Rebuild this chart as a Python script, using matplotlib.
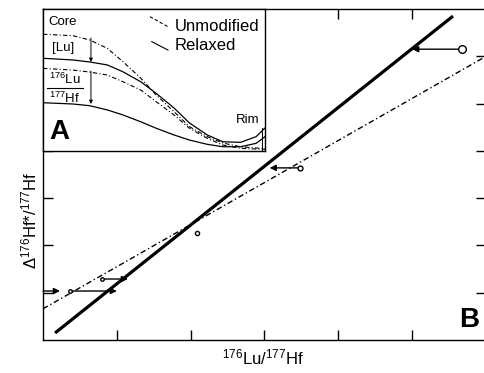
import matplotlib
matplotlib.use("Agg")
import matplotlib.pyplot as plt

plt.rcParams['font.family'] = ['Liberation Sans', 'DejaVu Sans']
plt.rcParams['mathtext.fontset'] = 'custom'
plt.rcParams['mathtext.rm'] = 'Liberation Sans'
plt.rcParams['mathtext.it'] = 'Liberation Sans'

# panel B: isochron lines (x in 176Lu/177Hf units, y in delta units)
relaxed_x = [0.163, 5.553]
relaxed_y = [0.148, 6.85]
unmod_x = [0.0, 6.0]
unmod_y = [0.66, 6.0]

# measured points and where their arrows end
pts_x = [5.675, 3.48, 2.09, 0.80, 0.366]
pts_y = [6.15, 3.64, 2.26, 1.29, 1.036]
pts_size = [5.5, 3.5, 3.0, 2.5, 2.5]
arrow_end_x = [5.0, 3.07, None, 1.15, 1.0]
edge_arrow = (0.0, 0.23, 1.036)

# panel A: profiles from core (0) to rim (1)
prof_u = [0, 0.135, 0.21, 0.29, 0.36, 0.44, 0.51, 0.59, 0.66, 0.74, 0.81, 0.89, 0.96, 1.0]
lu_unmod = [0.822, 0.812, 0.782, 0.723, 0.629, 0.514, 0.394, 0.277, 0.171, 0.101, 0.056, 0.030, 0.021, 0.018]
lu_relax = [0.653, 0.641, 0.627, 0.606, 0.558, 0.488, 0.406, 0.303, 0.197, 0.113, 0.065, 0.061, 0.101, 0.162]
ratio_unmod = [0.582, 0.570, 0.556, 0.535, 0.488, 0.430, 0.347, 0.254, 0.160, 0.089, 0.042, 0.019, 0.014, 0.012]
ratio_relax = [0.340, 0.331, 0.319, 0.289, 0.254, 0.206, 0.160, 0.113, 0.077, 0.047, 0.030, 0.030, 0.054, 0.101]

dashdot = (0, (4, 2, 1, 2))

fig = plt.figure(figsize=(4.85, 3.73), dpi=100)
ax = fig.add_axes([43/485, 33/373, 443/485, 331/373])
ax.set_xlim(0, 6)
ax.set_ylim(0, 7)
ax.set_xticks([1, 2, 3, 4, 5])
ax.set_yticks([1, 2, 3, 4, 5, 6])
ax.tick_params(direction='in', length=7.5, width=1, top=True, right=True,
               labelbottom=False, labelleft=False)
for s in ax.spines.values():
    s.set_linewidth(1)

ax.plot(relaxed_x, relaxed_y, color='black', lw=2.3, solid_capstyle='butt')
ax.plot(unmod_x, unmod_y, color='black', lw=1, linestyle=dashdot)

arrow_kw = dict(arrowstyle='-|>', color='black', lw=1, mutation_scale=9,
                shrinkA=0, shrinkB=0)
for x, y, ms, xe in zip(pts_x, pts_y, pts_size, arrow_end_x):
    if xe is not None:
        ax.annotate('', xy=(xe, y), xytext=(x, y), arrowprops=arrow_kw)
    ax.plot(x, y, marker='o', ms=ms, mfc='white', mec='black', mew=1, zorder=5)
ax.annotate('', xy=(edge_arrow[1], edge_arrow[2]), xytext=(edge_arrow[0], edge_arrow[2]),
            arrowprops=arrow_kw)

ax.text(0.985, 0.02, 'B', transform=ax.transAxes, ha='right', va='bottom',
        fontsize=20, fontweight='bold')

fig.text(29/485, 1 - 220/373, r'Δ$^{176}$Hf*/$^{177}$Hf', rotation=90,
         ha='center', va='center', fontsize=12)
fig.text(263/485, 1 - 357/373, r'$^{176}$Lu/$^{177}$Hf', ha='center', va='center',
         fontsize=12)

# inset A
ins = fig.add_axes([43/485, (373 - 151)/373, 222/485, 142/373])
ins.set_xlim(0, 1)
ins.set_ylim(0, 1)
ins.set_xticks([])
ins.set_yticks([])
for s in ins.spines.values():
    s.set_linewidth(1)
ins.plot(prof_u, lu_unmod, color='black', lw=0.8, linestyle=dashdot)
ins.plot(prof_u, lu_relax, color='black', lw=0.9)
ins.plot(prof_u, ratio_unmod, color='black', lw=0.8, linestyle=dashdot)
ins.plot(prof_u, ratio_relax, color='black', lw=0.9)

small_arrow = dict(arrowstyle='-|>', color='black', lw=0.7, mutation_scale=5,
                   shrinkA=0, shrinkB=0)
ins.annotate('', xy=(0.216, 0.627), xytext=(0.216, 0.796), arrowprops=small_arrow)
ins.annotate('', xy=(0.216, 0.331), xytext=(0.216, 0.563), arrowprops=small_arrow)
ins.plot([0.985, 0.985], [0.0, 0.16], color='black', lw=0.7)

ins.plot([0.482, 0.563], [0.946, 0.875], color='black', lw=0.8, linestyle=(0, (3, 2)))
ins.plot([0.490, 0.563], [0.770, 0.711], color='black', lw=0.8)
ins.text(0.595, 0.88, 'Unmodified', ha='left', va='center', fontsize=12)
ins.text(0.595, 0.746, 'Relaxed', ha='left', va='center', fontsize=12)

ins.text(0.023, 0.91, 'Core', ha='left', va='center', fontsize=9.5)
ins.text(0.04, 0.723, '[Lu]', ha='left', va='center', fontsize=9.5)
ins.text(0.025, 0.47, r'$^{176}$Lu', ha='left', va='baseline', fontsize=9.5)
ins.text(0.025, 0.335, r'$^{177}$Hf', ha='left', va='baseline', fontsize=9.5)
ins.plot([0.017, 0.18], [0.447, 0.447], color='black', lw=0.8)
ins.text(0.977, 0.218, 'Rim', ha='right', va='center', fontsize=9.5)
ins.text(0.03, 0.04, 'A', ha='left', va='bottom', fontsize=20, fontweight='bold')

fig.savefig('out.png', dpi=100)
